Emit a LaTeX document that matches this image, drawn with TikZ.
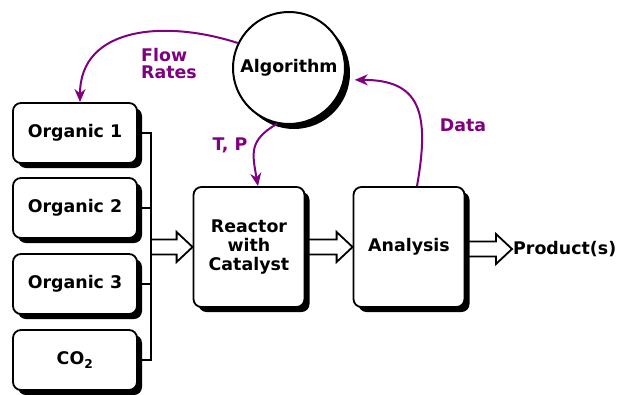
\documentclass[tikz,border=0pt]{standalone}
\usepackage{fontspec}
\setmainfont{DejaVu Sans}
\usepackage{tikz}
\usetikzlibrary{shadows, calc, arrows.meta}
\definecolor{ctrlpurple}{RGB}{128,0,128}

% wide open arrow between two units
\newcommand{\fatarrow}[2]{%
  \draw[fatarrow] let \p1=(#1), \p2=(#2) in
    (\x1,\y2+7.5pt) -- (\x2-16pt,\y2+7.5pt) -- (\x2-16pt,\y2+15pt) -- (\x2,\y2)
    -- (\x2-16pt,\y2-15pt) -- (\x2-16pt,\y2-7.5pt) -- (\x1,\y2-7.5pt);}

\begin{document}
\begin{tikzpicture}[x=1pt, y=1pt,
    every node/.style={font=\bfseries\fontsize{17.4}{19}\selectfont},
    unit/.style={draw=black, line width=1.8pt, fill=white, rounded corners=8pt, align=center,
      drop shadow={opacity=1, fill=black, shadow xshift=5pt, shadow yshift=-5pt}},
    feed/.style={unit, minimum width=124pt, minimum height=60pt},
    stage/.style={unit, minimum width=111pt, minimum height=120pt},
    ctrl/.style={draw=ctrlpurple, line width=2pt, -{Stealth[length=13pt,width=11pt]}},
    ctrllabel/.style={text=ctrlpurple, align=left, inner sep=1pt},
    fatarrow/.style={draw=black, line width=1.8pt, line join=miter}]
      \useasboundingbox (0,0) rectangle (621,-394);

      % feeds
      \node[feed] (org1) at (75,-133) {Organic 1};
      \node[feed] (org2) at (75,-208) {Organic 2};
      \node[feed] (org3) at (75,-284) {Organic 3};
      \node[feed] (co2)  at (75,-360) {CO\textsubscript{2}};
      \coordinate (bus) at (151,-247);

      % process line
      \node[stage] (reactor)  at (249,-247) {Reactor\\with\\Catalyst};
      \node[stage] (analysis) at (409,-247) {Analysis};
      \node[anchor=west, inner sep=1pt] (product) at (512,-249) {Product(s)};

      % controller
      \node[circle, draw=black, line width=2pt, fill=white, minimum size=112pt, inner sep=0pt,
        drop shadow={opacity=1, fill=black, shadow xshift=5pt, shadow yshift=-5pt}]
        (algo) at (289,-68) {Algorithm};

      \draw[line width=1.8pt] (org1.east) -- (org1.east -| bus) -- (co2.east -| bus) -- (co2.east);
      \draw[line width=1.8pt] (org2.east) -- (org2.east -| bus);
      \draw[line width=1.8pt] (org3.east) -- (org3.east -| bus);

      \fatarrow{bus}{reactor.west}
      \fatarrow{reactor.east}{analysis.west}
      \fatarrow{analysis.east}{product.west}

      \draw[ctrl] (algo.154) to[out=162, in=90, looseness=1.15] ([xshift=5pt]org1.north);
      \draw[ctrl] (algo.258) to[out=210, in=100, looseness=1.3] ([xshift=9pt]reactor.north);
      \draw[ctrl, shorten >=10pt] ([xshift=8pt]analysis.north) to[out=80, in=0, looseness=1.5] (algo.-12);

      \node[ctrllabel, anchor=west, font=\bfseries\fontsize{17.4}{17}\selectfont] (flowlbl) at (140,-64) {Flow\\Rates};
      \node[ctrllabel] (tplbl) at (230,-145) {T, P};
      \node[ctrllabel] (datalbl) at (463,-125) {Data};
    \end{tikzpicture}
\end{document}
